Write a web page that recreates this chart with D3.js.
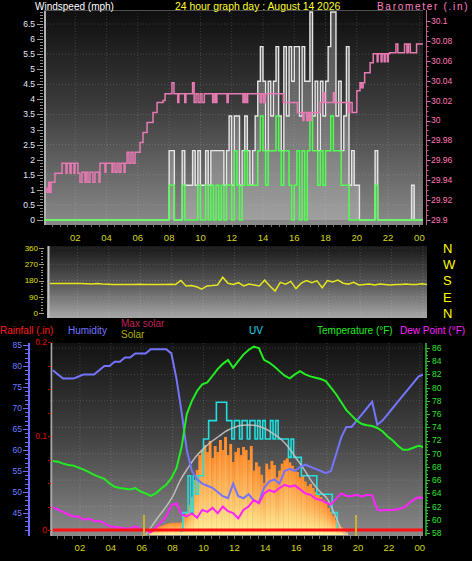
<!DOCTYPE html>
<html><head><meta charset="utf-8">
<script src="https://cdn.jsdelivr.net/npm/d3@7/dist/d3.min.js"></script>
<style>
html,body{margin:0;padding:0;background:#000;overflow:hidden;}
svg{display:block;}
text{font-family:"Liberation Sans",Arial,sans-serif;}
</style></head><body>
<svg id="chart" width="472" height="561"></svg>
<script>
// ---------------- DATA ----------------
const titleText = "24 hour graph day : August 14 2026";
const hourTicks = [2,4,6,8,10,12,14,16,18,20,22,24];
const hourLabels = ["02","04","06","08","10","12","14","16","18","20","22","00"];
const windTicks = [0,0.5,1,1.5,2,2.5,3,3.5,4,4.5,5,5.5,6,6.5];
const baroTicks = [29.9,29.92,29.94,29.96,29.98,30,30.02,30.04,30.06,30.08,30.1];
const dirTicks = [0,90,180,270,360];
const compassLabels = ["N","E","S","W","N"];
const humTicks = [45,50,55,60,65,70,75,80,85];
const rainTicks = [0,0.1,0.2];
const tempTicks = [58,60,62,64,66,68,70,72,74,76,78,80,82,84,86];

// wind (mph), 10-minute slots starting 00:00
const windStep = 1/6;
const windGust = [
0,0,0,0,0,0,0,0,0,0,0,0, 0,0,0,0,0,0,0,0,0,0,0,0,
0,0,0,0,0,0,0,0,0,0,0,0, 0,0,0,0,0,0,0,0,0,0,0,0,
2.3,2.3,0,0,0,2.3,1.15,1.15,1.15,2.3,1.15,2.3,
1.15,1.15,2.3,1.15,2.3,2.3,2.3,2.3,2.3,1.15,2.3,3.45,
1.15,3.45,3.45,1.15,2.3,3.45,2.3,1.15,2.3,3.45,4.6,5.75,
4.6,2.3,4.6,3.45,4.6,5.75,3.45,2.3,5.75,3.45,5.75,4.6,
5.75,5.75,3.45,5.75,4.6,4.6,6.9,3.45,4.6,2.3,4.6,3.45,
4.6,5.75,6.9,6.9,3.45,4.6,2.3,3.45,5.75,1.15,2.3,1.15,
1.15,0,0,0,0,0,0,2.3,0,0,0,0,
0,0,0,0,0,0,0,0,0,1.15,0,0,
0];
const windAvg = [
0,0,0,0,0,0,0,0,0,0,0,0, 0,0,0,0,0,0,0,0,0,0,0,0,
0,0,0,0,0,0,0,0,0,0,0,0, 0,0,0,0,0,0,0,0,0,0,0,0,
1.15,1.15,0,0,0,1.15,0,0,0,0,0,1.15,
0,0,1.15,0,1.15,0,1.15,0,1.15,0,1.15,1.15,
0,2.3,1.15,0,1.15,2.3,1.15,1.15,1.15,1.15,2.3,3.45,
2.3,1.15,2.3,2.3,2.3,3.45,2.3,1.15,2.3,2.3,1.15,0,
1.15,2.3,0,2.3,0,2.3,3.45,2.3,2.3,1.15,2.3,1.15,
2.3,2.3,3.45,2.3,2.3,2.3,1.15,1.15,1.15,0,0,0,
0,0,0,0,0,0,0,1.15,0,0,0,0,
0,0,0,0,0,0,0,0,0,0,0,0,
0];

// barometer (in), step readings
const baroHours = [0.06,0.19,0.29,0.38,0.45,0.70,1.15,1.41,1.47,1.66,1.73,1.92,1.98,2.17,2.30,2.43,2.62,2.69,2.81,2.94,
3.13,3.26,3.52,3.58,3.90,3.96,4.35,4.41,4.54,4.67,4.80,4.92,5.12,5.18,5.31,5.43,5.56,5.69,5.82,6.14,
6.33,6.59,6.97,7.23,7.61,7.74,8.18,8.31,8.55,8.62,9.00,9.07,9.50,9.60,9.72,9.85,9.98,10.10,10.25,10.78,
10.88,10.98,11.05,11.70,11.78,12.72,12.82,12.92,13.02,13.82,13.92,14.05,14.15,15.30,16.20,16.55,16.62,16.80,16.90,17.00,
17.10,17.65,17.85,17.95,18.50,18.58,19.45,19.55,19.70,20.00,20.20,20.30,20.40,20.50,20.85,21.05,21.30,21.36,21.55,21.61,
21.75,21.81,21.95,22.01,22.10,22.50,22.62,23.05,23.20,23.30,23.42,23.82,24.23];
const baroValues = [29.932,29.928,29.938,29.928,29.938,29.947,29.957,29.947,29.957,29.947,29.957,29.947,29.957,29.947,29.938,29.948,29.938,29.948,29.938,29.948,
29.938,29.948,29.938,29.957,29.948,29.957,29.948,29.957,29.948,29.957,29.948,29.957,29.948,29.957,29.968,29.957,29.968,29.957,29.968,29.978,
29.988,29.998,30.008,30.018,30.020,30.027,30.038,30.027,30.018,30.027,30.018,30.027,30.038,30.018,30.027,30.018,30.027,30.018,30.027,30.018,
30.027,30.018,30.027,30.018,30.027,30.018,30.027,30.018,30.027,30.018,30.027,30.018,30.027,30.018,30.008,30.000,30.008,30.000,30.008,30.000,
30.008,30.018,30.028,30.018,30.028,30.018,30.008,30.018,30.008,30.030,30.038,30.033,30.038,30.048,30.058,30.067,30.059,30.067,30.059,30.067,
30.059,30.067,30.059,30.067,30.068,30.077,30.068,30.077,30.068,30.077,30.068,30.077,30.077];

// wind direction (degrees), 20-minute readings from 00:15
const dirStart = 0.25, dirStep = 1/3;
const windDir = [163,163,163,163,163,163,163,162,160,163,160,159,158,158,158,158,158,159,158,158,
158,158,158,159,158,180,150,152,145,132,150,152,155,198,165,158,168,150,160,155,
150,182,150,122,170,160,175,135,165,180,168,178,140,180,172,182,165,160,170,155,
158,160,155,160,158,155,158,158,160,158,158,162,158];

// lower panel series, 20-minute readings from 00:15
const wxStart = 0.25, wxStep = 1/3;
const temperature = [68.9,68.8,68.5,68.3,68.2,67.9,67.6,67.2,66.8,66.5,
66.2,65.5,65.0,64.8,64.7,64.6,64.8,64.3,64.0,63.6,
64.0,64.7,65.3,66.3,67.8,71.0,76.0,78.0,79.5,80.5,
80.8,81.8,82.8,83.6,84.2,83.0,84.0,85.0,85.7,86.2,
86.0,84.2,83.8,83.2,82.5,81.8,81.4,82.0,82.5,82.0,
81.7,81.5,81.3,81.0,80.0,79.0,77.8,76.6,75.8,75.0,
74.5,74.3,74.2,73.9,73.4,72.6,72.0,71.2,70.6,70.6,
70.9,71.2,71.0];
const humidity = [79,78,77,77,77,77.5,78,78,78,79,
80,80,81,81,82,82,83,83,83,84,
84,84,84,83,77,69,60,55,53,52,
51.5,51,50,49,48.5,52,49,48.5,49.5,48,
47.5,51,52.5,53,52,55,55.5,55,56,56.5,
56,55.5,55,54.5,55,59,63,65.5,65.5,67,
68.5,70,71.5,66,67,68.5,70,71.5,73,74.5,
76,77.5,78];
const dewPoint = [61.9,61.5,61.2,60.8,60.5,60.5,60.0,60.2,59.8,59.8,
59.5,59.0,58.9,58.8,58.7,58.7,59.0,58.6,58.4,58.1,
58.8,59.6,60.5,62.2,62.5,60.8,60.5,61.0,60.3,61.5,
61.2,61.8,61.0,62.0,61.3,61.0,60.2,61.5,62.0,63.0,
62.5,64.0,64.5,64.2,64.8,65.3,65.0,65.2,64.6,64.0,
63.8,63.2,63.0,62.6,62.3,63.2,64.0,63.6,63.6,63.8,
63.5,63.8,63.7,61.5,61.4,61.5,61.5,61.6,61.8,62.4,
63.0,63.4,63.3];

// solar (W/m2), 10-minute readings from 06:30
const solarStart = 6.5, solarStep = 1/6;
const solar = [36,45,52,58,66,73,80,84,88,88,90,88,
92,146,160,219,277,401,474,583,620,
656,605,686,562,649,605,693,620,715,583,664,532,
605,635,583,642,620,547,649,470,530,500,440,380,
520,480,540,510,420,470,520,545,560,530,505,480,
460,420,430,390,357,372,343,314,299,277,255,233,
197,168,139,109,80,58,44,22,0];
const maxSolarHours = [6.25,6.5,7.0,7.5,8.0,8.5,9.0,9.5,10.0,10.5,11.0,11.5,12.0,12.5,13.0,13.5,14.0,14.5,15.0,15.5,16.0,16.5,17.0,17.5,18.0,18.5,19.0,19.25];
const maxSolar = [0,40,120,195,280,400,490,570,630,680,720,760,785,800,802,795,775,740,700,640,560,480,390,320,265,150,25,0];

// UV index, 10-minute readings from 08:30
const uvStart = 8.5, uvStep = 1/6;
const uv = [0,1,1,3,1,3,2,3,3,
5,5,6,6,6,7,7,7,7,6,6,5,
6,6,5,6,6,5,6,6,5,6,5,6,
5,5,6,5,6,5,5,5,5,4,5,4,
4,4,3,3,3,3,3,3,2,2,2,2,
2,2,1,1,0];

// rainfall (in)
const rainHours = [0.25,24.25];
const rainfall = [0,0];

// sunrise / sunset markers (hours)
const sunEvents = [6.15,19.87];

// ---------------- DRAWING ----------------
const svg = d3.select('#chart');
const defs = svg.append('defs');
function vgrad(id, stops){
  const g = defs.append('linearGradient').attr('id',id).attr('x1',0).attr('y1',0).attr('x2',0).attr('y2',1);
  stops.forEach(s=>g.append('stop').attr('offset',s[0]).attr('stop-color',s[1]));
}
vgrad('bg1',[[0,'#0e0e0e'],[0.45,'#3c3c3c'],[1,'#8a8a8a']]);
vgrad('bg2',[[0,'#181818'],[0.5,'#555'],[1,'#a6a6a6']]);
vgrad('bg3',[[0,'#121212'],[0.5,'#444'],[1,'#8a8a8a']]);
vgrad('solarG',[[0,'#ff8a2a'],[0.45,'#ffb45a'],[1,'#fff39c']]);

const P1={l:44,r:423,t:10,b:225};
const P2={l:47,r:427,t:246,b:318};
const P3={l:50,r:423,t:343,b:536};
function clip(id,P){defs.append('clipPath').attr('id',id).append('rect').attr('x',P.l).attr('y',P.t).attr('width',P.r-P.l).attr('height',P.b-P.t);}
clip('c1',P1);clip('c2',P2);clip('c3',P3);

const x1 = d3.scaleLinear().domain([0,24]).range([44,419.4]);
const x2 = d3.scaleLinear().domain([0,24]).range([46,423]);
const x3 = d3.scaleLinear().domain([0,24]).range([49,419.8]);
const yWind = d3.scaleLinear().domain([0,6.5]).range([220,24]);
const yBaro = d3.scaleLinear().domain([29.9,30.1]).range([220,21]);
const yDir = d3.scaleLinear().domain([0,360]).range([313,248]);
const yHum = d3.scaleLinear().domain([40,85]).range([534,345]);
const yTemp = d3.scaleLinear().domain([58,86]).range([533,348]);
const yRain = d3.scaleLinear().domain([0,0.2]).range([530,342]);
const ySolar = d3.scaleLinear().domain([0,1400]).range([535,343]);
const yUV = d3.scaleLinear().domain([0,10]).range([531,347]);

const FONT_AX = 8.5;
function txt(g,x,y,s,fill,size,anchor){
  return g.append('text').attr('x',x).attr('y',y).text(s).attr('fill',fill).attr('font-size',size).attr('text-anchor',anchor||'start');
}
function panelBg(P,grad){
  svg.append('rect').attr('x',P.l).attr('y',P.t).attr('width',P.r-P.l).attr('height',P.b-P.t).attr('fill','url(#'+grad+')');
}
function vgrid(g,xs,P){
  g.selectAll(null).data(hourTicks).join('line').attr('x1',d=>xs(d)).attr('x2',d=>xs(d)).attr('y1',P.t).attr('y2',P.b)
   .attr('stroke','rgba(255,255,255,0.16)').attr('stroke-dasharray','1,2');
}
function hgrid(g,vals,ys,P){
  g.selectAll(null).data(vals).join('line').attr('x1',P.l).attr('x2',P.r).attr('y1',d=>ys(d)).attr('y2',d=>ys(d))
   .attr('stroke','rgba(255,255,255,0.16)').attr('stroke-dasharray','1,2');
}
function ticks(g,vals,ys,x,len,color){
  g.selectAll(null).data(vals).join('line').attr('x1',x).attr('x2',x+len).attr('y1',d=>Math.round(ys(d))+0.5).attr('y2',d=>Math.round(ys(d))+0.5).attr('stroke',color).attr('stroke-width',1);
}
function xticks(g,xs,y,len,color){
  const v=d3.range(0.5,24.01,0.5);
  g.selectAll(null).data(v).join('line').attr('x1',d=>Math.round(xs(d))+0.5).attr('x2',d=>Math.round(xs(d))+0.5).attr('y1',y).attr('y2',y+len).attr('stroke',color);
}

// ===== Panel 1: wind speed + barometer =====
panelBg(P1,'bg1');
const g1 = svg.append('g');
vgrid(g1,x1,P1);
hgrid(g1,[0.5,1.5,2.5,3.5,4.5,5.5,6.5],yWind,P1);
g1.append('line').attr('x1',P1.l+1).attr('x2',P1.l+1).attr('y1',P1.t).attr('y2',P1.b).attr('stroke','#b0b0b0').attr('stroke-width',2);
g1.append('line').attr('x1',P1.l).attr('x2',P1.r).attr('y1',P1.t+0.5).attr('y2',P1.t+0.5).attr('stroke','#505050');
const gd1 = svg.append('g').attr('clip-path','url(#c1)');
const endH1 = x1.invert(P1.r);
const gustPts = windGust.map((v,i)=>({h:i*windStep,v})); gustPts.push({h:endH1,v:windGust[windGust.length-1]});
const avgPts = windAvg.map((v,i)=>({h:i*windStep,v})); avgPts.push({h:endH1,v:windAvg[windAvg.length-1]});
gd1.append('path').datum(gustPts).attr('d',d3.area().curve(d3.curveStepAfter).x(d=>x1(d.h)).y0(yWind(0)).y1(d=>yWind(d.v)))
  .attr('fill','rgba(220,220,220,0.3)');
gd1.append('path').datum(gustPts).attr('d',d3.line().curve(d3.curveStepAfter).x(d=>x1(d.h)).y(d=>yWind(d.v)))
  .attr('fill','none').attr('stroke','#e6e6e6').attr('stroke-width',1.4);
gd1.append('path').datum(avgPts).attr('d',d3.line().curve(d3.curveStepAfter).x(d=>x1(d.h)).y(d=>yWind(d.v)))
  .attr('fill','none').attr('stroke','#50ff50').attr('stroke-width',1.5);
const baroPts = baroHours.map((h,i)=>({h,v:baroValues[i]}));
gd1.append('path').datum(baroPts).attr('d',d3.line().curve(d3.curveStepAfter).x(d=>x1(d.h)).y(d=>yBaro(d.v)))
  .attr('fill','none').attr('stroke','#e67ab2').attr('stroke-width',1.5);

// left wind axis
const ga1 = svg.append('g');
ticks(ga1,d3.range(0,6.95,0.1),yWind,40,3,'#8a8a8a');
ticks(ga1,windTicks,yWind,37,6,'#9a9a9a');
ga1.selectAll(null).data(windTicks).join('text').attr('x',35).attr('y',d=>yWind(d)).attr('dy','0.35em')
  .attr('text-anchor','end').attr('font-size',FONT_AX).attr('fill','#e4e8ff').text(d=>d);
// right baro axis
ga1.append('line').attr('x1',426.5).attr('x2',426.5).attr('y1',P1.t).attr('y2',P1.b).attr('stroke','#c06090');
ticks(ga1,d3.range(29.9,30.1049,0.005),yBaro,426.5,2,'#c06090');
ticks(ga1,baroTicks,yBaro,426.5,4,'#d070a0');
ga1.selectAll(null).data(baroTicks).join('text').attr('x',431).attr('y',d=>yBaro(d)).attr('dy','0.35em')
  .attr('font-size',FONT_AX).attr('fill','#ff78b8').text(d=>d3.format('.2~f')(d));
// x axis panel 1
xticks(ga1,x1,P1.b,2,'#6a6a6a');
ga1.selectAll(null).data(hourTicks).join('text').attr('x',d=>x1(d)).attr('y',241).attr('text-anchor','middle')
  .attr('font-size',9.5).attr('fill','#d6d620').text((d,i)=>hourLabels[i]);
// titles
txt(svg,35,10,'Windspeed (mph)','#ffffff',10);
txt(svg,175,10,titleText,'#ffff30',10.4);
txt(svg,377,10,'Barometer (.in)','#ff80c0',10).attr('letter-spacing',1.7);

// ===== Panel 2: wind direction =====
panelBg(P2,'bg2');
const g2 = svg.append('g');
vgrid(g2,x2,P2);
hgrid(g2,dirTicks,yDir,P2);
g2.append('line').attr('x1',P2.l+1.5).attr('x2',P2.l+1.5).attr('y1',P2.t).attr('y2',P2.b).attr('stroke','#c0c0c0').attr('stroke-width',2);
const gd2 = svg.append('g').attr('clip-path','url(#c2)');
gd2.append('path').datum(windDir.map((v,i)=>({h:dirStart+i*dirStep,v})))
  .attr('d',d3.line().x(d=>x2(d.h)).y(d=>yDir(d.v))).attr('fill','none').attr('stroke','#e6e61e').attr('stroke-width',1.5);
ticks(g2,d3.range(0,361,15),yDir,41,2,'#9a9a70');
ticks(g2,dirTicks,yDir,39,5,'#a0a070');
g2.selectAll(null).data(dirTicks).join('text').attr('x',38).attr('y',d=>yDir(d)).attr('dy','0.35em').attr('text-anchor','end')
  .attr('font-size',8).attr('fill','#e0e000').text(d=>d);
g2.selectAll(null).data(dirTicks).join('text').attr('x',443).attr('y',d=>yDir(d)).attr('dy','0.38em')
  .attr('font-size',13).attr('fill','#ffff00').text((d,i)=>compassLabels[i]);

// ===== Panel 3 =====
panelBg(P3,'bg3');
const g3 = svg.append('g');
vgrid(g3,x3,P3);
hgrid(g3,[62,66,70,74,78,82,86],yTemp,P3);
g3.append('line').attr('x1',P3.l+1.5).attr('x2',P3.l+1.5).attr('y1',P3.t).attr('y2',P3.b).attr('stroke','#a8a8a8').attr('stroke-width',1.5);
const gd3 = svg.append('g').attr('clip-path','url(#c3)');
// solar
gd3.selectAll(null).data(solar.map((v,i)=>({h:solarStart+i*solarStep,v}))).join('rect')
  .attr('x',d=>x3(d.h)).attr('width',d=>x3(d.h+solarStep)-x3(d.h)+0.3)
  .attr('y',d=>ySolar(d.v)).attr('height',d=>ySolar(0)-ySolar(d.v)).attr('fill','url(#solarG)');
// UV
const uvPts = uv.map((v,i)=>({h:uvStart+i*uvStep,v}));
gd3.append('path').datum(uvPts).attr('d',d3.line().curve(d3.curveStepAfter).x(d=>x3(d.h)).y(d=>yUV(d.v)))
  .attr('fill','none').attr('stroke','#22dede').attr('stroke-width',1.6);
// max solar
gd3.append('path').datum(maxSolarHours.map((h,i)=>({h,v:maxSolar[i]})))
  .attr('d',d3.line().curve(d3.curveMonotoneX).x(d=>x3(d.h)).y(d=>ySolar(d.v)))
  .attr('fill','none').attr('stroke','#c4c4c4').attr('stroke-width',1.5).attr('opacity',0.9);
const wxLine = (arr,ys)=>d3.line().x((d,i)=>x3(wxStart+i*wxStep)).y(d=>ys(d))(arr);
gd3.append('path').attr('d',wxLine(humidity,yHum)).attr('fill','none').attr('stroke','#7474ff').attr('stroke-width',2);
gd3.append('path').attr('d',wxLine(temperature,yTemp)).attr('fill','none').attr('stroke','#22ee22').attr('stroke-width',2);
gd3.append('path').attr('d',wxLine(dewPoint,yTemp)).attr('fill','none').attr('stroke','#ff22ff').attr('stroke-width',2);
gd3.append('path').datum(rainHours.map((h,i)=>({h,v:rainfall[i]})))
  .attr('d',d3.line().x(d=>x3(d.h)).y(d=>yRain(d.v))).attr('fill','none').attr('stroke','#ff1010').attr('stroke-width',3);
gd3.selectAll(null).data(sunEvents).join('line').attr('x1',d=>x3(d)).attr('x2',d=>x3(d)).attr('y1',515).attr('y2',P3.b)
  .attr('stroke','#c8b030').attr('stroke-width',2);

// humidity axis
const ga3 = svg.append('g');
ga3.append('line').attr('x1',29).attr('x2',29).attr('y1',P3.t).attr('y2',P3.b).attr('stroke','#6a6aff').attr('stroke-width',2);
ticks(ga3,d3.range(41,86,1),yHum,25,3,'#6a6aff');
ticks(ga3,humTicks,yHum,23,5,'#6a6aff');
ga3.selectAll(null).data(humTicks).join('text').attr('x',22).attr('y',d=>yHum(d)).attr('dy','0.35em').attr('text-anchor','end')
  .attr('font-size',FONT_AX).attr('fill','#6e7cff').text(d=>d);
// rain axis
ticks(ga3,d3.range(0,0.201,0.025),yRain,48,3,'#c00000');
ga3.selectAll(null).data(rainTicks).join('text').attr('x',47).attr('y',d=>yRain(d)).attr('dy','0.35em').attr('text-anchor','end')
  .attr('font-size',FONT_AX).attr('fill','#e00000').text(d=>d);
// temperature axis
ga3.append('line').attr('x1',426).attr('x2',426).attr('y1',P3.t).attr('y2',P3.b).attr('stroke','#30c030').attr('stroke-width',1.5);
ticks(ga3,d3.range(58,86.1,0.5),yTemp,426,2,'#30c030');
ticks(ga3,tempTicks,yTemp,426,4,'#30c030');
ga3.selectAll(null).data(tempTicks).join('text').attr('x',432).attr('y',d=>yTemp(d)).attr('dy','0.35em')
  .attr('font-size',FONT_AX).attr('fill','#30e030').text(d=>d);
// x axis panel 3
xticks(ga3,x3,P3.b,3,'#6a6a6a');
ga3.selectAll(null).data(hourTicks).join('text').attr('x',d=>x3(d)).attr('y',551).attr('text-anchor','middle')
  .attr('font-size',9.5).attr('fill','#d6d620').text((d,i)=>hourLabels[i]);
// legend texts
txt(svg,0,334,'Rainfall (.in)','#ff1a1a',10);
txt(svg,68,334,'Humidity','#7474ff',10);
txt(svg,121,327,'Max solar','#c0205a',10);
txt(svg,121,338,'Solar','#b0b000',10);
txt(svg,249,334,'UV','#22d8e8',10);
txt(svg,317,334,'Temperature (°F)','#22ee22',10);
txt(svg,400,334,'Dew Point (°F)','#ff22ff',10);
</script>
</body></html>
